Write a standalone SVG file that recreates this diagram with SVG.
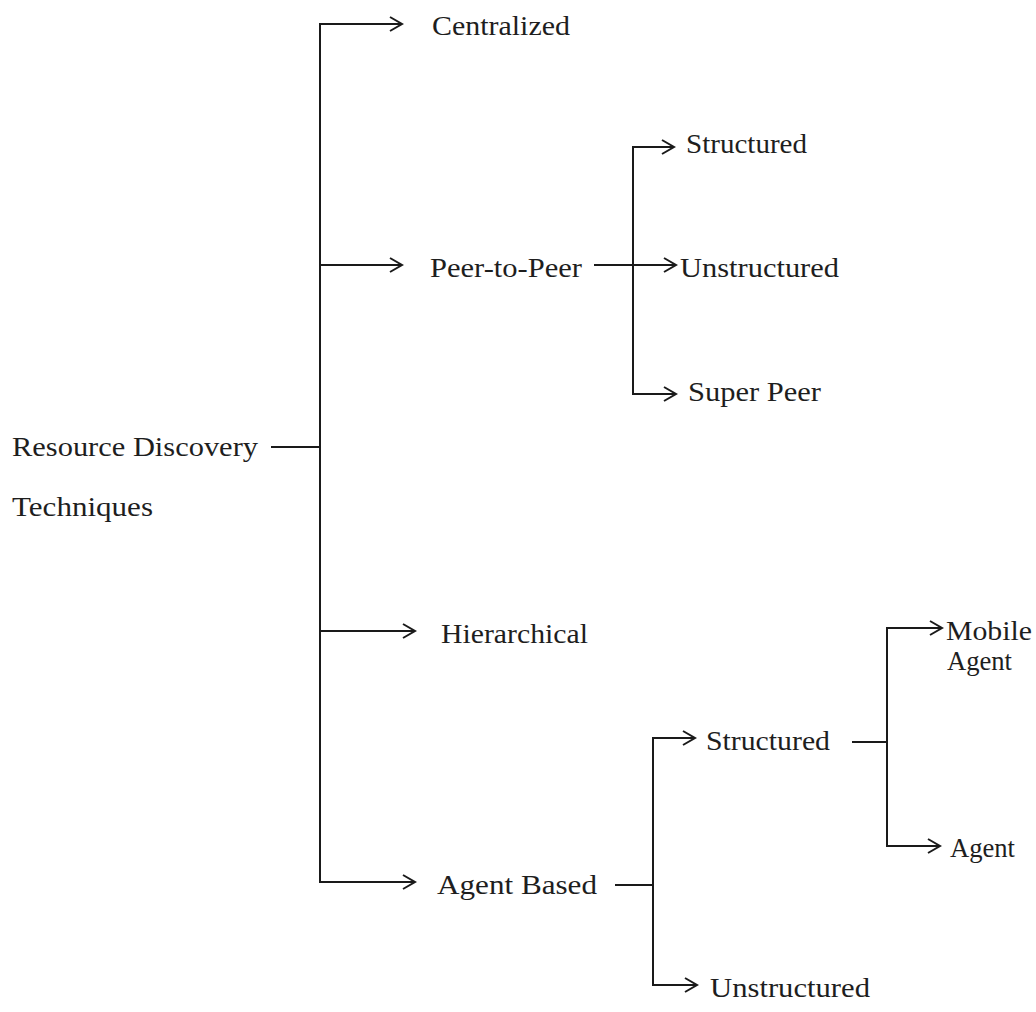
<svg xmlns="http://www.w3.org/2000/svg" width="1036" height="1012" viewBox="0 0 1036 1012">
  <style>
    .lbl { font-family: "Liberation Serif", "Times New Roman", serif; font-size: 28px; fill: #1e1e1e; }
    .ln { fill: none; stroke: #1a1a1a; stroke-width: 2; }
    .arr { fill: none; stroke: #1a1a1a; stroke-width: 2; marker-end: url(#chev); }
  </style>
  <defs>
    <marker id="chev" markerWidth="16" markerHeight="16" viewBox="0 0 16 16" refX="14" refY="8" markerUnits="userSpaceOnUse" orient="auto">
      <polyline points="2,1 14,8 2,15" fill="none" stroke="#1a1a1a" stroke-width="2"/>
    </marker>
  </defs>
  <rect width="1036" height="1012" fill="#ffffff"/>

  <!-- connectors -->
  <g id="connectors">
    <!-- root trunk -->
    <line class="ln" x1="271" y1="447" x2="320" y2="447"/>
    <line class="ln" x1="320" y1="23" x2="320" y2="883"/>
    <line class="arr" x1="319" y1="24" x2="402" y2="24"/>
    <line class="arr" x1="320" y1="265" x2="402" y2="265"/>
    <line class="arr" x1="320" y1="631" x2="415" y2="631"/>
    <line class="arr" x1="319" y1="882" x2="415" y2="882"/>
    <!-- peer-to-peer branch -->
    <line class="ln" x1="594" y1="265" x2="633" y2="265"/>
    <line class="ln" x1="633" y1="147" x2="633" y2="394"/>
    <line class="arr" x1="632" y1="147" x2="674" y2="147"/>
    <line class="arr" x1="633" y1="265" x2="676" y2="265"/>
    <line class="arr" x1="632" y1="394" x2="676" y2="394"/>
    <!-- agent based branch -->
    <line class="ln" x1="615" y1="885" x2="653" y2="885"/>
    <line class="ln" x1="653" y1="738" x2="653" y2="985"/>
    <line class="arr" x1="652" y1="738" x2="695" y2="738"/>
    <line class="arr" x1="652" y1="985" x2="697" y2="985"/>
    <!-- structured agent branch -->
    <line class="ln" x1="852" y1="742" x2="887" y2="742"/>
    <line class="ln" x1="887" y1="628" x2="887" y2="846"/>
    <line class="arr" x1="886" y1="628" x2="942" y2="628"/>
    <line class="arr" x1="886" y1="846" x2="940" y2="846"/>
  </g>

  <g id="root">
    <text class="lbl" x="12" y="456" textLength="246" lengthAdjust="spacingAndGlyphs">Resource Discovery</text>
    <text class="lbl" x="12" y="516" textLength="141" lengthAdjust="spacingAndGlyphs">Techniques</text>
  </g>
  <g id="centralized">
    <text class="lbl" x="432" y="35" textLength="138" lengthAdjust="spacingAndGlyphs">Centralized</text>
  </g>
  <g id="peer-to-peer">
    <text class="lbl" x="430" y="277" textLength="152" lengthAdjust="spacingAndGlyphs">Peer-to-Peer</text>
  </g>
  <g id="p2p-structured">
    <text class="lbl" x="686" y="153" textLength="121" lengthAdjust="spacingAndGlyphs">Structured</text>
  </g>
  <g id="p2p-unstructured">
    <text class="lbl" x="680" y="277" textLength="159" lengthAdjust="spacingAndGlyphs">Unstructured</text>
  </g>
  <g id="super-peer">
    <text class="lbl" x="688" y="401" textLength="133" lengthAdjust="spacingAndGlyphs">Super Peer</text>
  </g>
  <g id="hierarchical">
    <text class="lbl" x="441" y="643" textLength="147" lengthAdjust="spacingAndGlyphs">Hierarchical</text>
  </g>
  <g id="agent-based">
    <text class="lbl" x="437" y="894" textLength="160" lengthAdjust="spacingAndGlyphs">Agent Based</text>
  </g>
  <g id="agent-structured">
    <text class="lbl" x="706" y="750" textLength="124" lengthAdjust="spacingAndGlyphs">Structured</text>
  </g>
  <g id="agent-unstructured">
    <text class="lbl" x="710" y="997" textLength="160" lengthAdjust="spacingAndGlyphs">Unstructured</text>
  </g>
  <g id="mobile-agent">
    <text class="lbl" x="946" y="640" textLength="86" lengthAdjust="spacingAndGlyphs">Mobile</text>
    <text class="lbl" x="947" y="670" textLength="65" lengthAdjust="spacingAndGlyphs">Agent</text>
  </g>
  <g id="agent">
    <text class="lbl" x="950" y="857" textLength="65" lengthAdjust="spacingAndGlyphs">Agent</text>
  </g>
</svg>
